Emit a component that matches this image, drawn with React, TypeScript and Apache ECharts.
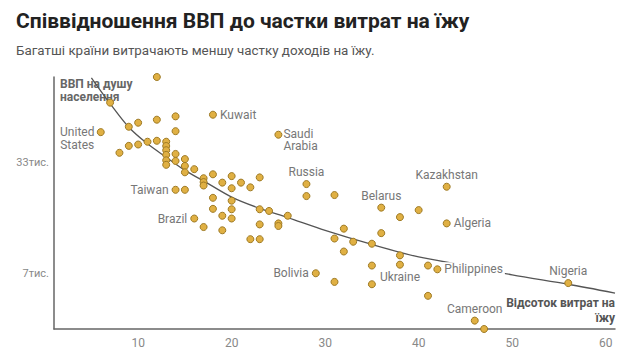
import React, { useEffect, useRef } from "react";
import * as echarts from "echarts";

// Food share of spending (%) per country
const foodShare = [
  12, 7, 18, 6, 9, 10, 12, 14, 14, 8, 9, 10, 11, 12, 13, 13, 13, 13, 13, 13,
  14, 14, 15, 15, 15, 16, 17, 17, 17, 18, 19, 20, 20, 21, 22, 23, 14, 15, 18, 20,
  18, 20, 19, 20, 16, 17, 19, 22, 23, 23, 24, 26, 23, 25, 25, 25, 28, 28, 31, 43,
  36, 38, 40, 43, 32, 36, 31, 33, 35, 32, 38, 38, 35, 41, 42, 29, 31, 35, 41, 46,
  47, 56,
];
// GDP per capita ($)
const gdpPerCapita = [
  110200, 76900, 64900, 50800, 54800, 58000, 60500, 63400, 51500, 38000, 41900, 42700,
  44400, 45000, 44400, 41800, 39400, 36900, 34200, 32100, 37400, 33900, 34800, 31600,
  28900, 30200, 26600, 25200, 24000, 28100, 25000, 27400, 23100, 25000, 23400, 26900,
  22600, 22600, 20200, 19400, 17300, 17200, 15700, 15100, 15100, 13400, 12800, 11300,
  11300, 17200, 16800, 15700, 13900, 14100, 13600, 49000, 24500, 20700, 21000, 23600,
  17600, 15400, 17000, 14100, 13100, 12300, 11400, 10900, 10600, 9500, 9000, 7900,
  7800, 7800, 7400, 7000, 6200, 6000, 5100, 3600, 3200, 6100,
];
// Country label (empty = unlabeled)
const countryLabel = [
  "", "", "Kuwait", "United\nStates", "", "", "", "", "", "", "", "",
  "", "", "", "", "", "", "", "", "", "", "", "",
  "", "", "", "", "", "", "", "", "", "", "", "",
  "Taiwan", "", "", "", "", "", "", "", "Brazil", "", "", "",
  "", "", "", "", "", "", "", "Saudi\nArabia", "Russia", "", "", "Kazakhstan",
  "Belarus", "", "", "Algeria", "", "", "", "", "", "", "", "Ukraine",
  "", "", "Philippines", "Bolivia", "", "", "", "Cameroon", "", "Nigeria",
];

// Trend line
const trendShare = [5, 7, 9, 11, 13, 15, 17, 20, 23, 26, 30, 35, 40, 45, 50, 56, 61];
const trendGdp = [109000, 75800, 54400, 43100, 35700, 29700, 25600, 20400, 17400, 15300, 12800, 10500, 8800, 7800, 6850, 6000, 5300];

const xTicks = [10, 20, 30, 40, 50, 60];
const yTicks = [7000, 33000];

const labelPlacement: Record<string, any> = {
  Kuwait: { position: "right", distance: 3 },
  Algeria: { position: "right", distance: 3 },
  Philippines: { position: "right", distance: 1, backgroundColor: "#fff", padding: [1, 2, 1, 2] },
  Taiwan: { position: "left", distance: 3 },
  Brazil: { position: "left", distance: 3 },
  Bolivia: { position: "left", distance: 3 },
  Russia: { position: "top", distance: 2 },
  Kazakhstan: { position: "top", distance: 2 },
  Belarus: { position: "top", distance: 2 },
  Nigeria: { position: "top", distance: 2 },
  Cameroon: { position: "top", distance: 2 },
  Ukraine: { position: "bottom", distance: 2 },
  "United\nStates": { position: [-19.5, 10.5], align: "center", verticalAlign: "middle", lineHeight: 13.5 },
  "Saudi\nArabia": { position: [9, -3], align: "left", verticalAlign: "top", lineHeight: 12.5 },
};

const FONT = "Roboto, 'Noto Sans', sans-serif";

export default function App() {
  const ref = useRef<HTMLDivElement>(null);
  useEffect(() => {
    document.body.style.margin = "0";
    const chart = echarts.init(ref.current!, null, { renderer: "svg" });
    const logs = gdpPerCapita.map((v) => Math.log10(v));
    const yMin = Math.min(...logs);
    const yMax = Math.max(...logs);
    const points = foodShare.map((x, i) => {
      const name = countryLabel[i];
      const item: any = { value: [x, Math.log10(gdpPerCapita[i])], name };
      if (name) {
        item.label = {
          show: true,
          formatter: "{b}",
          color: "#777",
          fontSize: 12,
          fontFamily: FONT,
          ...labelPlacement[name],
        };
      }
      return item;
    });
    chart.setOption({
      animation: false,
      textStyle: { fontFamily: FONT },
      title: {
        text: "Співвідношення ВВП до частки витрат на їжу",
        subtext: "Багатші країни витрачають меншу частку доходів на їжу.",
        left: 11,
        top: 5,
        itemGap: 13,
        textStyle: { fontSize: 21, fontWeight: "bold", color: "#222", fontFamily: FONT },
        subtextStyle: { fontSize: 13.4, color: "#555", fontFamily: FONT },
      },
      grid: { left: 54, right: 25, top: 77, bottom: 35, containLabel: false, outerBoundsMode: "none" },
      xAxis: {
        type: "value",
        min: 1,
        max: 61,
        name: "Відсоток витрат на\nїжу",
        nameLocation: "end",
        nameGap: 0,
        nameTextStyle: {
          align: "right",
          verticalAlign: "bottom",
          fontWeight: "bold",
          fontSize: 12,
          color: "#555",
          lineHeight: 15,
          padding: [0, 0, 4, 0],
        },
        axisLine: { show: true, lineStyle: { color: "#666", width: 1.5 } },
        axisTick: { show: false },
        splitLine: { show: false },
        axisLabel: { customValues: xTicks, color: "#888", fontSize: 12, margin: 8 },
      },
      yAxis: {
        type: "value",
        min: yMin,
        max: yMax,
        name: "ВВП на душу\nнаселення",
        nameLocation: "end",
        nameGap: 0,
        nameTextStyle: {
          align: "left",
          verticalAlign: "top",
          fontWeight: "bold",
          fontSize: 12,
          color: "#666",
          lineHeight: 13,
          padding: [0, 0, 0, 6],
        },
        axisLine: { show: true, lineStyle: { color: "#666", width: 1.5 } },
        axisTick: { show: false },
        splitLine: { show: false },
        axisLabel: {
          customValues: yTicks.map((v) => Math.log10(v)),
          formatter: (v: number) => Math.round(Math.pow(10, v) / 1000) + "тис.",
          color: "#888",
          fontSize: 11,
          margin: 5,
        },
      },
      series: [
        {
          type: "line",
          data: trendShare.map((x, i) => [x, Math.log10(trendGdp[i])]),
          smooth: 0.3,
          showSymbol: false,
          silent: true,
          z: 1,
          lineStyle: { color: "#555", width: 1.3 },
        },
        {
          type: "scatter",
          data: points,
          symbolSize: 7,
          z: 3,
          itemStyle: { color: "#E0B043", borderColor: "#9E7A24", borderWidth: 1, opacity: 1 },
        },
      ],
    });
    return () => chart.dispose();
  }, []);
  return <div ref={ref} style={{ width: 640, height: 364 }} />;
}
